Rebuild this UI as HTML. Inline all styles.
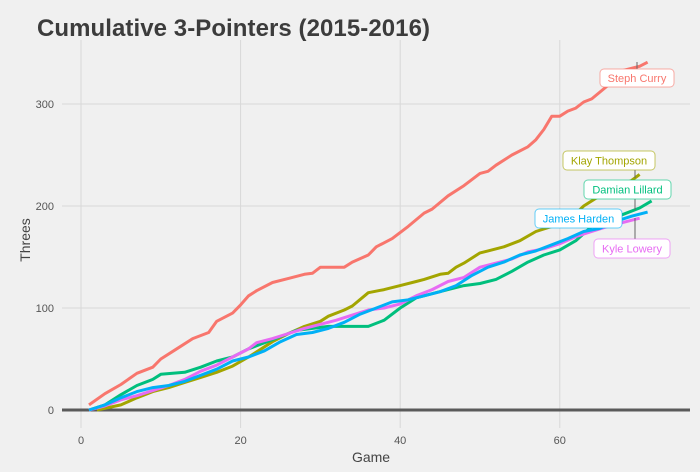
<!DOCTYPE html>
<html><head><meta charset="utf-8"><style>
body{margin:0;background:#f0f0f0;}
svg{display:block;font-family:"Liberation Sans",sans-serif;}
</style></head><body>
<svg id="chart" width="700" height="472">
<rect width="700" height="472" fill="#f0f0f0"/>
<text x="37" y="36" font-size="24" font-weight="bold" fill="#3c3c3c" textLength="393">Cumulative 3-Pointers (2015-2016)</text>
<g id="grid"></g><g id="lines"></g><g id="labels"></g>
<text x="371" y="462" font-size="14" fill="#444" text-anchor="middle">Game</text>
<text x="30" y="240" font-size="14" fill="#444" text-anchor="middle" transform="rotate(-90 30 240)">Threes</text>
</svg>
<script>
const xTicks=[0,20,40,60];
const yTicks=[0,100,200,300];
const curryG=[1,3,5,7,9,10,12,14,16,17,19,20,21,22,24,26,28,29,30,33,34,36,37,39,41,43,44,46,48,50,51,52,54,56,57,58,59,60,61,62,63,64,66,67,68,70,71];
const curryV=[5,16,25,36,42,50,60,70,76,87,95,103,112,117,125,129,133,134,140,140,145,152,160,168,180,193,197,210,220,232,234,240,250,258,265,275,288,288,293,296,302,305,318,322,333,337,341];
const klayG=[2,5,7,9,11,13,15,17,19,21,23,24,26,28,30,31,33,34,36,38,40,42,43,45,46,47,48,50,51,53,55,57,59,61,63,65,67,69,70];
const klayV=[0,5,12,18,22,27,32,37,43,52,62,67,75,82,87,92,98,102,115,118,122,126,128,133,134,140,144,154,156,160,166,175,180,185,200,210,218,225,231];
const lillardG=[1,3,5,7,9,10,13,15,17,19,21,23,25,27,29,31,36,38,40,42,44,46,48,50,52,54,56,58,60,62,64,66,68,70,71.5];
const lillardV=[0,5,15,24,30,35,37,42,48,52,60,66,72,78,80,82,82,88,100,110,114,118,122,124,128,136,145,152,157,166,180,186,192,198,205];
const hardenG=[1,3,5,7,9,11,13,15,17,19,21,23,25,27,29,31,33,35,37,39,41,43,45,47,49,51,53,55,57,59,61,63,65,67,69,71];
const hardenV=[0,5,12,18,22,24,28,34,40,48,52,58,67,74,76,80,86,94,100,106,108,112,116,122,132,140,145,152,156,162,168,175,178,185,190,194];
const loweryG=[1,3,5,7,9,11,13,15,17,19,21,22,24,26,28,30,32,34,36,38,40,42,44,46,48,50,52,54,56,58,60,62,64,66,68,70];
const loweryV=[0,4,10,14,19,24,30,38,44,52,60,66,70,75,80,84,88,93,98,100,104,112,118,126,130,140,144,148,155,158,163,170,175,180,184,188];
const NS="http://www.w3.org/2000/svg";
const xs=g=>81+7.98*g, ys=v=>410-1.02*v;
function mk(t,a,p){const e=document.createElementNS(NS,t);for(const k in a)e.setAttribute(k,a[k]);p.appendChild(e);return e;}
const grid=document.getElementById('grid');
xTicks.forEach(t=>{
 const l=mk('line',{x1:xs(t),x2:xs(t),y1:40,y2:428,stroke:'#d8d8d8','stroke-width':1},grid);
 
 
 const tx=mk('text',{x:xs(t),y:444,'font-size':11,fill:'#555','text-anchor':'middle'},grid);tx.textContent=t;
 
 
});
yTicks.forEach(t=>{
 const l=mk('line',{x1:62,x2:690,y1:ys(t),y2:ys(t),stroke:t===0?'#5a5a5a':'#d8d8d8','stroke-width':t===0?3:1},grid);
 
 
 const tx=mk('text',{x:54,y:ys(t)+4,'font-size':11,fill:'#555','text-anchor':'end'},grid);tx.textContent=t;
 
 
});
const series=[
 ['klay-thompson',klayG,klayV,'#a3a500'],
 ['damian-lillard',lillardG,lillardV,'#00bf7d'],
 ['steph-curry',curryG,curryV,'#f8766d'],
 ['kyle-lowery',loweryG,loweryV,'#e76bf3'],
 ['james-harden',hardenG,hardenV,'#00b0f6']];
const lines=document.getElementById('lines');
series.forEach(s=>{
 const d=s[1].map((g,i)=>(i?'L':'M')+xs(g).toFixed(1)+','+ys(s[2][i]).toFixed(1)).join('');
 const p=mk('path',{d:d,fill:'none',stroke:s[3],'stroke-width':3,'stroke-linejoin':'round'},lines);
 
 
});
const labs=[
 ['Steph Curry',600,69,74,18,'#f8766d',637,62],
 ['Klay Thompson',563,151,92,19,'#a3a500',635,178],
 ['Damian Lillard',584,180,87,19,'#00bf7d',635,210],
 ['James Harden',535,209,87,19,'#00b0f6',0,0],
 ['Kyle Lowery',594,239,76,19,'#e76bf3',635,218]];
const lg=document.getElementById('labels');
labs.forEach(l=>{
 if(l[6]){const s=mk('line',{x1:l[6],y1:l[7],x2:l[6],y2:l[7]<l[2]?l[2]:l[2]+l[4],stroke:'#666','stroke-width':1},lg);
 
 }
 const r=mk('rect',{x:l[1],y:l[2],width:l[3],height:l[4],rx:4,fill:'#fff',stroke:l[5],'stroke-opacity':0.6},lg);
 
 
 const t=mk('text',{x:l[1]+l[3]/2,y:l[2]+l[4]/2+4,'font-size':11,fill:l[5],'text-anchor':'middle'},lg);t.textContent=l[0];
 
 
});
</script>
</body></html>
